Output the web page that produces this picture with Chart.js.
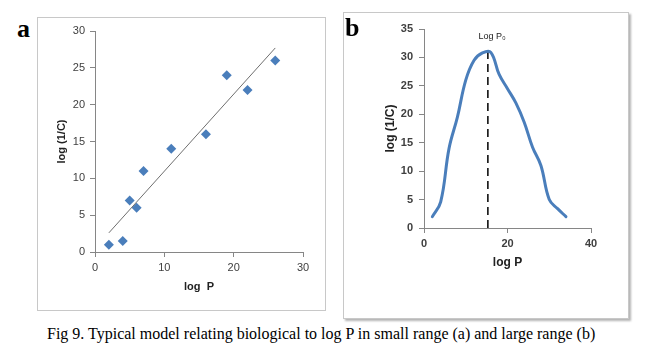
<!DOCTYPE html>
<html>
<head>
<meta charset="utf-8">
<script src="https://cdn.jsdelivr.net/npm/chart.js@4.4.1/dist/chart.umd.min.js"></script>
<style>
  body { margin: 0; background: #fff; width: 654px; height: 360px; position: relative; overflow: hidden; }
  .panel { position: absolute; border: 1px solid #c8c8c8; background: #fff; }
  #boxA { left: 37px; top: 17px; width: 287px; height: 292px; }
  #boxB { left: 343px; top: 12px; width: 284px; height: 305px; box-shadow: 2px 2px 2px #b4b4b4; }
  .tag { position: absolute; font-family: "Liberation Serif", serif; font-weight: bold; font-size: 26px; color: #000; }
  #caption { position: absolute; left: 47px; top: 326px; line-height: 1; font-family: "Liberation Serif", serif; font-size: 16px; color: #000; white-space: nowrap; }
  canvas { position: absolute; left: 0; top: 0; }
</style>
</head>
<body>
<div class="tag" style="left:17px; top:14px;">a</div>
<div class="panel" id="boxA"><canvas id="chartA" width="287" height="292"></canvas></div>
<div class="panel" id="boxB"><canvas id="chartB" width="284" height="305"></canvas></div>
<div class="tag" style="left:345px; top:13px;">b</div>
<div id="caption">Fig 9. Typical model relating biological to log P in small range (a) and large range (b)</div>

<script>
// ---------- data: panel a (small range) ----------
const scatterX = [2, 4, 5, 6, 7, 11, 16, 19, 22, 26];
const scatterY = [1, 1.5, 7, 6, 11, 14, 16, 24, 22, 26];
const trendX = [2, 26];
const trendY = [2.6, 27.7];

// ---------- data: panel b (large range) ----------
const curveX = [2, 4, 6, 8, 10, 12, 14, 16, 18, 20, 22, 24, 26, 28, 30, 32, 34];
const curveY = [2, 4.6, 14, 19.5, 26, 29.5, 30.8, 30.9, 27, 24.5, 22, 18.6, 14.2, 11, 5, 3.4, 2];
const peakX = [15.3, 15.3];
const peakY = [0, 31];
const peakLabel = 'Log P\u2080';
const peakLabelPos = [16.3, 33.6];

const BLUE = '#4a7ebb';
const AXIS = '#868686';
const TEXT = '#404040';

function pts(xs, ys) {
    return xs.map((x, i) => ({ x: x, y: ys[i] }));
}

function axis(min, max, step, opts) {
    return {
        type: 'linear',
        min: min,
        max: max,
        ticks: { stepSize: step, color: TEXT, padding: opts.tickPad, font: opts.tickFont },
        grid: { drawOnChartArea: false, drawTicks: true, tickLength: 5, color: AXIS },
        border: { display: true, color: AXIS, width: 1 },
        title: { display: true, text: opts.title, color: '#222', font: opts.titleFont, padding: opts.titlePad },
        afterFit: opts.fit
    };
}

// =============================================
// Panel a: scatter + linear trendline
// =============================================
new Chart(document.getElementById('chartA'), {
    type: 'scatter',
    data: {
        datasets: [
            {
                type: 'line',
                data: pts(trendX, trendY),
                borderColor: '#6e6e6e',
                borderWidth: 1,
                pointRadius: 0,
                fill: false
            },
            {
                data: pts(scatterX, scatterY),
                pointStyle: 'rectRot',
                pointRadius: 5,
                backgroundColor: BLUE,
                borderColor: BLUE,
                borderWidth: 0
            }
        ]
    },
    options: {
        responsive: false,
        animation: false,
        layout: { padding: { left: 0, top: 13, right: 22, bottom: 0 } },
        plugins: { legend: { display: false }, tooltip: { enabled: false } },
        scales: {
            x: axis(0, 30, 10, {
                title: 'log  P',
                tickPad: 4,
                tickFont: { family: 'Liberation Sans', size: 11 },
                titleFont: { family: 'Liberation Sans', size: 11, weight: 'bold' },
                titlePad: { top: 0, bottom: 16 },
                fit: s => { s.height = 58; }
            }),
            y: axis(0, 30, 5, {
                title: 'log (1/C)',
                tickPad: 5,
                tickFont: { family: 'Liberation Sans', size: 11 },
                titleFont: { family: 'Liberation Sans', size: 11, weight: 'bold' },
                titlePad: { top: 17, bottom: 0 },
                fit: s => { s.width = 57; }
            })
        }
    }
});

// =============================================
// Panel b: parabolic curve with log P0 marker
// =============================================
const peakText = {
    id: 'peakText',
    afterDatasetsDraw(chart) {
        const { ctx, scales } = chart;
        ctx.save();
        ctx.font = '9px "Liberation Sans"';
        ctx.fillStyle = '#222';
        ctx.textAlign = 'center';
        ctx.textBaseline = 'middle';
        ctx.fillText(peakLabel, scales.x.getPixelForValue(peakLabelPos[0]), scales.y.getPixelForValue(peakLabelPos[1]));
        ctx.restore();
    }
};

new Chart(document.getElementById('chartB'), {
    type: 'line',
    data: {
        datasets: [
            {
                data: pts(curveX, curveY),
                borderColor: BLUE,
                borderWidth: 3,
                pointRadius: 0,
                tension: 0.4,
                borderCapStyle: 'round',
                fill: false
            },
            {
                data: pts(peakX, peakY),
                borderColor: '#000',
                borderWidth: 1.5,
                borderDash: [8, 5],
                pointRadius: 0,
                fill: false
            }
        ]
    },
    options: {
        responsive: false,
        animation: false,
        layout: { padding: { left: 0, top: 16, right: 37, bottom: 0 } },
        plugins: { legend: { display: false }, tooltip: { enabled: false } },
        scales: {
            x: axis(0, 40, 20, {
                title: 'log P',
                tickPad: 4,
                tickFont: { family: 'Liberation Sans', size: 11, weight: 'bold' },
                titleFont: { family: 'Liberation Sans', size: 12, weight: 'bold' },
                titlePad: { top: 0, bottom: 48 },
                fit: s => { s.height = 90; }
            }),
            y: axis(0, 35, 5, {
                title: 'log (1/C)',
                tickPad: 6,
                tickFont: { family: 'Liberation Sans', size: 11, weight: 'bold' },
                titleFont: { family: 'Liberation Sans', size: 12, weight: 'bold' },
                titlePad: { top: 39, bottom: 0 },
                fit: s => { s.width = 80; }
            })
        }
    },
    plugins: [peakText]
});
</script>
</body>
</html>
